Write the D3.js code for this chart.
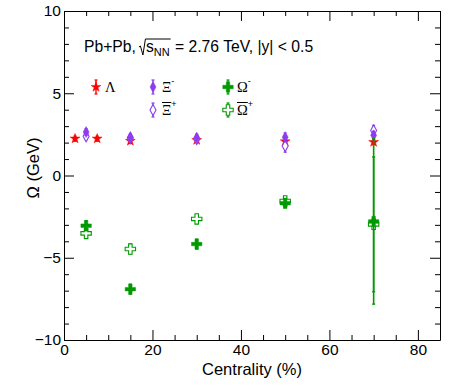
<!DOCTYPE html>
<html>
<head>
<meta charset="utf-8">
<script src="https://d3js.org/d3.v7.min.js"></script>
<style>
  body { margin: 0; background: #fff; }
  svg text { font-family: "Liberation Sans", Arial, sans-serif; fill: #000; }
  .greek { font-family: "Liberation Serif", "Times New Roman", serif; }
</style>
</head>
<body>
<div id="chart"></div>
<script>
// centralidade (%) de cada ponto
var centLambda = [2.5, 7.5, 15, 30, 50, 70];
var lambdaVal = [2.24, 2.24, 2.1, 2.15, 2.07, 2.03];
var lambdaErr = [0.15, 0.15, 0.15, 0.15, 0.15, 0.15];

var centXi = [5, 15, 30, 50, 70];
var xiMinusVal = [2.64, 2.33, 2.3, 2.33, 2.44];
var xiMinusErr = [0.2, 0.2, 0.2, 0.25, 0.25];
var xiPlusVal = [2.38, 2.28, 2.22, 1.79, 2.74];
var xiPlusErr = [0.2, 0.2, 0.2, 0.37, 0.3];

var centOmega = [5, 15, 30, 50, 70];
var omegaMinusVal = [-3.05, -6.91, -4.17, -1.69, -2.79];
var omegaMinusErr = [0.3, 0.3, 0.3, 0.25, 5.03];
var omegaPlusVal = [-3.52, -4.47, -2.64, -1.55, -2.97];
var omegaPlusErr = [0.3, 0.3, 0.25, 0.25, 4.1];

var xMajor = [0, 20, 40, 60, 80];
var yMajor = [-10, -5, 0, 5, 10];

var W = 471, H = 392;
var svg = d3.select('#chart').append('svg').attr('width', W).attr('height', H);

var x = d3.scaleLinear().domain([0, 85]).range([64, 440]);
var y = d3.scaleLinear().domain([-10, 10]).range([340, 11]);

var red = '#ff0000', violet = '#8c3cf0', green = '#009a00';

// eixos (ticks para dentro, estilo ROOT)
var xMinor = d3.range(0, 86, 5).filter(v => xMajor.indexOf(v) < 0);
var yMinor = d3.range(-10, 10.01, 1).filter(v => yMajor.indexOf(v) < 0);

function eixo(gen, scale, t, major, minor, labels) {
  var g = svg.append('g').attr('transform', t);
  g.call(gen(scale).tickValues(major).tickSize(-10).tickSizeOuter(0)
    .tickPadding(labels ? (gen === d3.axisBottom ? 4 : 3) : 0)
    .tickFormat(labels ? d3.format('') : ''));
  g.append('g').call(gen(scale).tickValues(minor).tickSize(-5).tickSizeOuter(0).tickFormat(''))
    .select('.domain').remove();
  g.selectAll('line').attr('stroke', '#000');
  g.selectAll('.domain').attr('stroke', '#000');
  g.selectAll('text').style('font-size', '15.5px').attr('font-family', null);
  return g;
}
eixo(d3.axisBottom, x, 'translate(0,340)', xMajor, xMinor, true);
eixo(d3.axisTop, x, 'translate(0,11)', xMajor, xMinor, false);
eixo(d3.axisLeft, y, 'translate(64,0)', yMajor, yMinor, true);
eixo(d3.axisRight, y, 'translate(440,0)', yMajor, yMinor, false);

svg.append('text').attr('x', 252).attr('y', 375).attr('text-anchor', 'middle')
  .style('font-size', '16.5px').text('Centrality (%)');
svg.append('text').attr('transform', 'translate(39,168) rotate(-90)').attr('text-anchor', 'middle')
  .style('font-size', '16.5px').text('Ω (GeV)');

// marcadores
var star = d3.symbol().type(d3.symbolStar).size(30)();
var cross = d3.symbol().type(d3.symbolCross).size(60)();
var diamond = 'M0,-5.5L3,0L0,5.5L-3,0Z';

function serie(cent, val, err, path, color, filled) {
  var g = svg.append('g');
  cent.forEach(function(c, i) {
    var cx = x(c), y1 = y(val[i] + err[i]), y2 = y(val[i] - err[i]);
    g.append('line').attr('x1', cx).attr('x2', cx).attr('y1', y1).attr('y2', y2)
      .attr('stroke', color).attr('stroke-width', 1.6);
    [y1, y2].forEach(function(yy) {
      g.append('line').attr('x1', cx - 1.5).attr('x2', cx + 1.5).attr('y1', yy).attr('y2', yy)
        .attr('stroke', color).attr('stroke-width', 1.4);
    });
    g.append('path').attr('d', path).attr('transform', 'translate(' + cx + ',' + y(val[i]) + ')')
      .attr('fill', filled ? color : '#fff').attr('stroke', color).attr('stroke-width', filled ? 0.5 : 1.1);
  });
}
serie(centLambda, lambdaVal, lambdaErr, star, red, true);
serie(centXi, xiPlusVal, xiPlusErr, diamond, violet, false);
serie(centXi, xiMinusVal, xiMinusErr, diamond, violet, true);
serie(centOmega, omegaPlusVal, omegaPlusErr, cross, green, false);
serie(centOmega, omegaMinusVal, omegaMinusErr, cross, green, true);

// titulo com raiz
var tx = 84, ty = 52, fs = '15.7px';
var t1 = svg.append('text').attr('x', tx).attr('y', ty).style('font-size', fs).text('Pb+Pb,');
var px = tx + t1.node().getComputedTextLength() + 3;
var s = svg.append('text').attr('x', px + 7).attr('y', ty).style('font-size', fs).text('s');
var sx = px + 7 + s.node().getComputedTextLength();
var nn = svg.append('text').attr('x', sx).attr('y', ty + 4).style('font-size', '11px').text('NN');
var ex = sx + nn.node().getComputedTextLength();
svg.append('path')
  .attr('d', 'M' + px + ',' + (ty - 5) + 'L' + (px + 1.5) + ',' + (ty - 6) + 'L' + (px + 4) + ',' + (ty + 3)
    + 'L' + (px + 6.5) + ',' + (ty - 13) + 'L' + (ex + 1) + ',' + (ty - 13))
  .attr('fill', 'none').attr('stroke', '#000').attr('stroke-width', 1);
svg.append('text').attr('x', ex + 1).attr('y', ty).style('font-size', fs)
  .text('\u00a0= 2.76 TeV, |y| < 0.5');

// legenda
function legenda(lx, ly, path, color, filled, letra, sup, barra) {
  svg.append('line').attr('x1', lx).attr('x2', lx).attr('y1', ly - 7).attr('y2', ly + 7)
    .attr('stroke', color).attr('stroke-width', 1.4);
  [ly - 7, ly + 7].forEach(function(yy) {
    svg.append('line').attr('x1', lx - 1.5).attr('x2', lx + 1.5).attr('y1', yy).attr('y2', yy)
      .attr('stroke', color).attr('stroke-width', 1.2);
  });
  svg.append('path').attr('d', path).attr('transform', 'translate(' + lx + ',' + ly + ')')
    .attr('fill', filled ? color : '#fff').attr('stroke', color).attr('stroke-width', filled ? 0.5 : 1.1);
  var t = svg.append('text').attr('class', 'greek').attr('x', lx + 9).attr('y', ly + 5)
    .style('font-size', '14.5px').text(letra);
  var w = t.node().getComputedTextLength();
  if (barra) {
    svg.append('line').attr('x1', lx + 9).attr('x2', lx + 9 + w).attr('y1', ly - 7.5).attr('y2', ly - 7.5)
      .attr('stroke', '#000').attr('stroke-width', 1);
  }
  if (sup) {
    svg.append('text').attr('x', lx + 9 + w).attr('y', ly - 3).style('font-size', '9px').text(sup);
  }
}
legenda(96, 87, star, red, true, 'Λ', null, false);
legenda(153, 87, diamond, violet, true, 'Ξ', '-', false);
legenda(153, 110, diamond, violet, false, 'Ξ', '+', true);
legenda(228, 87, cross, green, true, 'Ω', '-', false);
legenda(228, 110, cross, green, false, 'Ω', '+', true);
</script>
</body>
</html>
